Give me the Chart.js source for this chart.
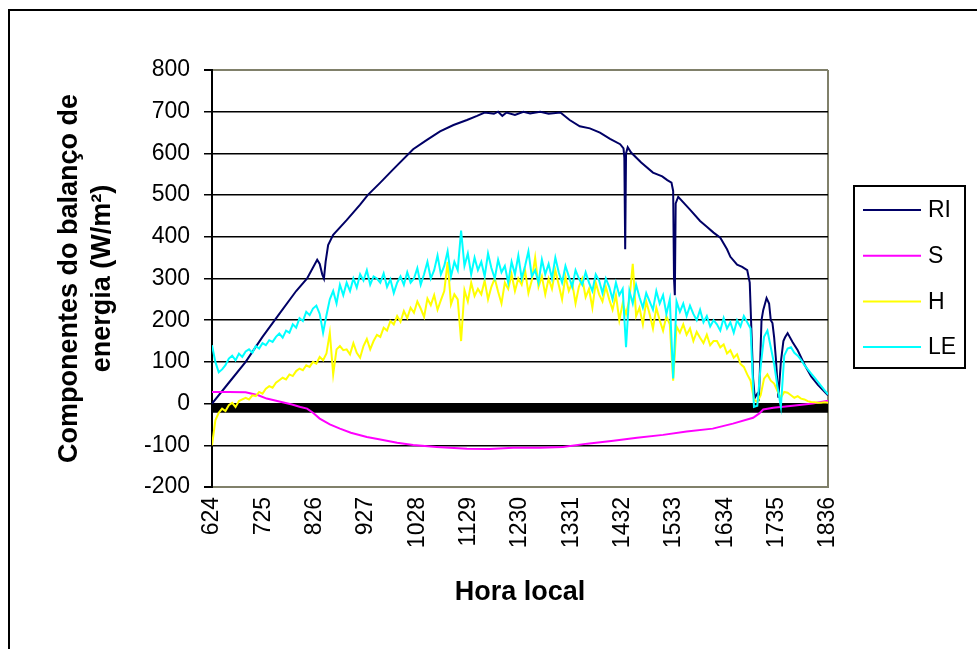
<!DOCTYPE html>
<html>
<head>
<meta charset="utf-8">
<script src="https://cdn.jsdelivr.net/npm/chart.js@4.4.1/dist/chart.umd.min.js"></script>
<style>
  html, body { margin: 0; padding: 0; background: #fff; overflow: hidden; }
  #wrap { position: absolute; left: 0; top: 0; width: 977px; height: 649px; overflow: hidden; }
  #frame { position: absolute; left: 8px; top: 9px; width: 1200px; height: 900px; border: 2px solid #000; }
  canvas { position: absolute; left: 0; top: 0; }
</style>
</head>
<body>
<div id="wrap">
  <div id="frame"></div>
  <canvas id="chart" width="977" height="649"></canvas>
</div>
<script>
// x axis is minutes after 6:24, one tick every 61 min
const horaTicks = ['624', '725', '826', '927', '1028', '1129', '1230', '1331', '1432', '1533', '1634', '1735', '1836'];

// RI (smooth, with the cloud drops)
const riMin = [0, 20, 40, 60, 80, 100, 113, 125, 128, 131, 133, 135, 138, 144, 160, 176, 185, 200, 215, 239,
  255, 271, 287, 303, 315, 324, 335, 340, 345, 350, 360, 370, 378, 390, 400, 414, 425, 437, 449, 461,
  473, 485, 489, 490, 491, 492, 494, 498, 510, 524, 535, 541, 546, 548, 549, 550, 551, 554, 568, 580,
  588, 596, 604, 612, 616, 624, 630, 636, 639, 643, 645, 648, 650, 653, 655, 659, 662, 664, 666, 668,
  670, 673, 676, 679, 681, 684, 690, 696, 705, 712, 720, 732];
const riVal = [0, 50, 100, 160, 215, 270, 300, 345, 335, 310, 300, 340, 380, 405, 440, 477, 500, 530, 561, 610,
  632, 653, 668, 680, 690, 698, 695, 700, 690, 698, 692, 700, 696, 700, 695, 698, 680, 665, 660, 650,
  635, 622, 612, 590, 370, 600, 615, 602, 578, 554, 545, 536, 530, 510, 300, 260, 480, 496, 465, 438,
  424, 410, 398, 370, 352, 333, 328, 320, 290, 60, 14, 24, 15, 200, 224, 253, 240, 200, 193, 159,
  110, 14, 100, 150, 159, 169, 147, 128, 90, 65, 45, 20];

// S
const sMin = [0, 20, 40, 55, 65, 80, 95, 105, 113, 120, 128, 140, 152, 165, 184, 200, 220, 239, 267, 303,
  330, 358, 390, 417, 446, 477, 505, 536, 564, 595, 619, 643, 650, 655, 667, 690, 714, 732];
const sVal = [28, 28, 27, 20, 12, 5, -2, -8, -12, -22, -36, -50, -60, -70, -80, -86, -94, -99, -104, -108,
  -109, -106, -106, -104, -96, -89, -82, -75, -67, -60, -48, -34, -24, -14, -10, -5, 0, 7];

// H and LE read every 4 minutes
const stepMin = 4;
const hVal = [
  -100, -40, -22, -12, -18, -4, 2, -8, 6, 10,
  14, 10, 20, 18, 28, 24, 36, 42, 38, 50,
  56, 62, 58, 70, 66, 78, 84, 80, 92, 88,
  100, 96, 112, 104, 120, 170, 70, 130, 138, 128,
  130, 118, 145, 122, 110, 138, 155, 130, 150, 165,
  160, 182, 175, 198, 190, 210, 196, 222, 205, 230,
  218, 245, 228, 208, 252, 236, 260, 225, 248, 270,
  340, 238, 262, 250, 150, 272, 245, 290, 258, 275,
  262, 295, 250, 280, 300, 268, 240, 290, 275, 310,
  270, 300, 285, 320, 265, 295, 350, 280, 305, 262,
  300, 275, 320, 285, 250, 305, 270, 290, 240, 280,
  300, 255, 275, 230, 290, 262, 245, 280, 250, 225,
  260, 200, 240, 215, 250, 335, 210, 230, 190, 245,
  215, 180, 230, 200, 175, 210, 190, 55, 185, 170,
  190, 165, 180, 150, 172, 158, 145, 165, 140, 150,
  150, 135, 142, 120, 128, 110, 118, 95, 88, 70,
  55, 10, 4, 20, 60, 70, 55, 48, 30, 14,
  28, 26, 20, 14, 18, 12, 10, 6, 4, 3,
  2, 2, 3, 2];
const leVal = [
  140, 100, 75, 82, 92, 108, 115, 104, 120, 112,
  125, 130, 122, 138, 132, 145, 140, 152, 148, 160,
  168, 158, 175, 170, 190, 182, 205, 198, 220, 212,
  228, 235, 215, 170, 212, 250, 270, 240, 285, 260,
  290, 270, 300, 278, 310, 295, 320, 285, 305, 300,
  290, 312, 280, 298, 265, 290, 305, 285, 315, 290,
  300, 325, 285, 310, 340, 300, 320, 355, 310, 330,
  365, 305, 340, 320, 415, 330, 360, 310, 350, 320,
  340, 305, 360, 325, 300, 345, 315, 330, 290, 340,
  310, 355, 300, 330, 365, 305, 320, 290, 345, 310,
  335, 300, 350, 315, 290, 330, 305, 280, 320, 300,
  285, 315, 290, 270, 310, 295, 265, 300, 280, 250,
  290, 260, 275, 135, 270, 240, 285, 255, 230, 265,
  245, 225, 270, 240, 260, 215, 250, 60, 245, 220,
  240, 210, 235, 215, 200, 225, 195, 210, 185, 200,
  190, 175, 205, 180, 195, 170, 200, 185, 210, 195,
  180, -8, -5, 90, 160, 175, 135, 95, 40, -8,
  115, 132, 135, 122, 115, 105, 92, 82, 72, 62,
  52, 42, 32, 22];

const olive = '#80806a';
const FONT = '"Liberation Sans", Arial, sans-serif';

function pairs(xs, ys) {
  return ys.map((y, i) => ({ x: xs[i], y: y }));
}
function everyStep(ys) {
  return ys.map((y, i) => ({ x: i * stepMin, y: y }));
}

// legend in a box, like the original
const boxLegend = {
  id: 'boxLegend',
  afterDraw(chart) {
    const ctx = chart.ctx;
    ctx.save();
    ctx.strokeStyle = '#000';
    ctx.lineWidth = 2;
    ctx.strokeRect(854, 186, 111, 182);
    ctx.font = '23px ' + FONT;
    ctx.textBaseline = 'middle';
    ctx.fillStyle = '#000';
    let y = 210;
    chart.data.datasets.forEach(ds => {
      if (!ds.label) return;
      ctx.strokeStyle = ds.borderColor;
      ctx.lineWidth = 2;
      ctx.beginPath();
      ctx.moveTo(863, y);
      ctx.lineTo(921, y);
      ctx.stroke();
      ctx.fillText(ds.label, 928, y + 1);
      y += 45.7;
    });
    ctx.restore();
  }
};

new Chart(document.getElementById('chart'), {
  type: 'line',
  data: {
    datasets: [
      { label: 'RI', data: pairs(riMin, riVal), borderColor: '#000066', borderWidth: 2, order: 4 },
      { label: 'S', data: pairs(sMin, sVal), borderColor: '#ff00ff', borderWidth: 2, order: 3 },
      { label: 'H', data: everyStep(hVal), borderColor: '#ffff00', borderWidth: 2, order: 2 },
      { label: 'LE', data: everyStep(leVal), borderColor: '#00ffff', borderWidth: 2, order: 1 },
      { label: '', data: [{ x: 0, y: -11 }, { x: 732, y: -11 }], borderColor: '#000', borderWidth: 9, order: 5 }
    ]
  },
  options: {
    responsive: false,
    animation: false,
    events: [],
    elements: { point: { radius: 0 }, line: { tension: 0, fill: false } },
    layout: { padding: { left: 50, top: 70, right: 149, bottom: 30 } },
    plugins: { legend: { display: false }, tooltip: { enabled: false } },
    scales: {
      x: {
        type: 'linear',
        min: 0,
        max: 732,
        afterFit(scale) { scale.height = 132; },
        afterBuildTicks(scale) {
          scale.ticks = horaTicks.map((t, i) => ({ value: i * 61 }));
        },
        ticks: {
          autoSkip: false,
          minRotation: 90,
          maxRotation: 90,
          padding: 10,
          color: '#000',
          font: { family: FONT, size: 23 },
          callback: (v, i) => horaTicks[i]
        },
        grid: {
          drawTicks: false,
          lineWidth: 2,
          color: c => (c.tick && c.tick.value === 732) ? olive : 'rgba(0,0,0,0)'
        },
        border: { color: olive, width: 2 },
        title: {
          display: true,
          text: 'Hora local',
          color: '#000',
          font: { family: FONT, size: 27, weight: 'bold', lineHeight: 1.22 },
          padding: { top: 0, bottom: 10 }
        }
      },
      y: {
        min: -200,
        max: 800,
        afterFit(scale) { scale.width = 162; },
        ticks: {
          stepSize: 100,
          padding: 14,
          color: '#000',
          font: { family: FONT, size: 23 }
        },
        grid: {
          tickLength: 8,
          tickColor: '#000',
          lineWidth: c => (c.tick && (c.tick.value === 800 || c.tick.value === -200)) ? 2 : 1.5,
          color: c => (c.tick && (c.tick.value === 800 || c.tick.value === -200)) ? olive : '#000'
        },
        border: { color: '#000', width: 2 },
        title: {
          display: true,
          text: ['Componentes do balanço de', 'energia (W/m²)'],
          color: '#000',
          font: { family: FONT, size: 27, weight: 'bold', lineHeight: 1.22 },
          padding: { top: 3, bottom: 0 }
        }
      }
    }
  },
  plugins: [boxLegend]
});
</script>
</body>
</html>
